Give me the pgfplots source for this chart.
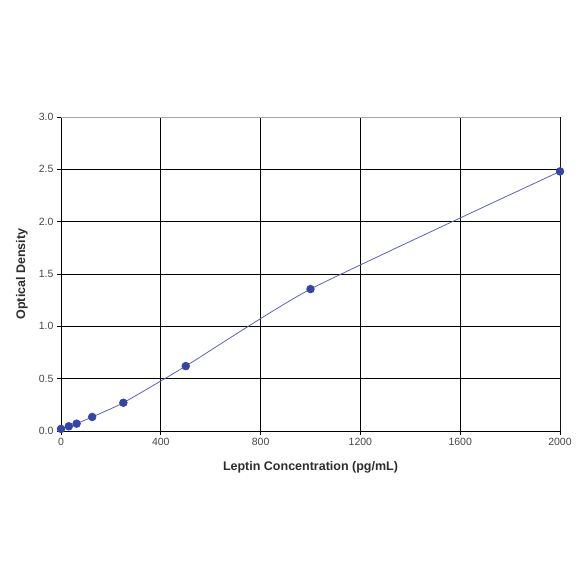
\documentclass[border=0pt]{standalone}
\usepackage{pgfplots}
\pgfplotsset{compat=1.18}
\usepackage{fontspec}
\setmainfont{Liberation Sans}
\definecolor{linec}{RGB}{95,95,195}
\definecolor{markc}{RGB}{50,70,170}
\definecolor{tickc}{RGB}{70,70,70}
\definecolor{labc}{RGB}{45,45,45}
\begin{document}
\begin{tikzpicture}[x=1pt,y=1pt]
\path[use as bounding box] (0,0) rectangle (584,584);
\begin{axis}[
  at={(61pt,153pt)}, anchor=south west,
  scale only axis, width=499pt, height=314pt,
  xmin=0, xmax=2000, ymin=0, ymax=3,
  xtick={0,400,800,1200,1600,2000},
  ytick={0,0.5,1,1.5,2,2.5,3},
  xtick pos=bottom, ytick pos=left,
  grid=major, major grid style={black, line width=0.7pt},
  axis line style={black, line width=0.7pt},
  tick align=outside, major tick length=4pt,
  tick style={black, line width=0.7pt},
  /pgf/number format/assume math mode=true,
  yticklabel style={/pgf/number format/.cd, fixed, fixed zerofill, precision=1},
  xticklabel style={/pgf/number format/.cd, fixed, 1000 sep={}},
  ticklabel style={font=\fontsize{10.5}{12}\selectfont, text=tickc},
  xlabel={Leptin Concentration (pg/mL)},
  ylabel={Optical Density},
  label style={font=\bfseries\fontsize{12.5}{14}\selectfont, text=labc},
  xlabel style={at={(axis description cs:0.5,0)}, anchor=center, yshift=-36pt},
  ylabel style={at={(axis description cs:0,0.5)}, anchor=center, yshift=39pt},
]
\addplot[linec, line width=0.8pt, smooth, tension=0.3, mark=*, mark size=3.8pt,
  mark options={fill=markc, draw=markc}] coordinates {
  (0,0.02) (31.25,0.045) (62.5,0.07) (125,0.134) (250,0.27) (500,0.62) (1000,1.356) (2000,2.48)
};
\draw[gray!70, line width=0.7pt] (rel axis cs:0,1) -- (rel axis cs:1,1) -- (rel axis cs:1,0);
\end{axis}
\end{tikzpicture}
\end{document}
